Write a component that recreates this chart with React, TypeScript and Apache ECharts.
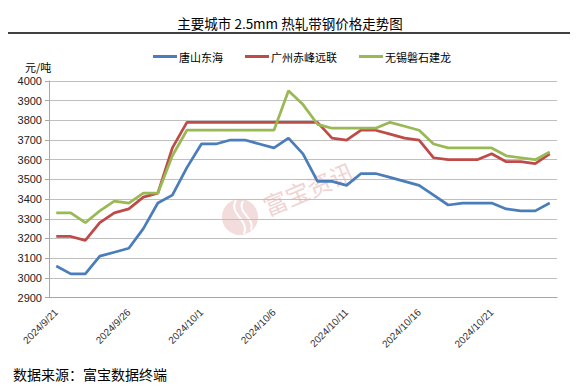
import React, { useEffect, useRef } from "react";
import * as echarts from "echarts";

const dates = [
  "2024/9/21", "2024/9/22", "2024/9/23", "2024/9/24", "2024/9/25",
  "2024/9/26", "2024/9/27", "2024/9/28", "2024/9/29", "2024/9/30",
  "2024/10/1", "2024/10/2", "2024/10/3", "2024/10/4", "2024/10/5",
  "2024/10/6", "2024/10/7", "2024/10/8", "2024/10/9", "2024/10/10",
  "2024/10/11", "2024/10/12", "2024/10/13", "2024/10/14", "2024/10/15",
  "2024/10/16", "2024/10/17", "2024/10/18", "2024/10/19", "2024/10/20",
  "2024/10/21", "2024/10/22", "2024/10/23", "2024/10/24", "2024/10/25",
];

const tangshan = [
  3060, 3020, 3020, 3110, 3130, 3150, 3250, 3380, 3420, 3560,
  3680, 3680, 3700, 3700, 3680, 3660, 3710, 3630, 3490, 3490,
  3470, 3530, 3530, 3510, 3490, 3470, 3420, 3370, 3380, 3380,
  3380, 3350, 3340, 3340, 3380,
];

const guangzhou = [
  3210, 3210, 3190, 3280, 3330, 3350, 3410, 3430, 3660, 3790,
  3790, 3790, 3790, 3790, 3790, 3790, 3790, 3790, 3790, 3710,
  3700, 3750, 3750, 3730, 3710, 3700, 3610, 3600, 3600, 3600,
  3630, 3590, 3590, 3580, 3630,
];

const wuxi = [
  3330, 3330, 3280, 3340, 3390, 3380, 3430, 3430, 3620, 3750,
  3750, 3750, 3750, 3750, 3750, 3750, 3950, 3880, 3780, 3760,
  3760, 3760, 3760, 3790, 3770, 3750, 3680, 3660, 3660, 3660,
  3660, 3620, 3610, 3600, 3640,
];

const seriesNames = ["唐山东海", "广州赤峰远联", "无锡磐石建龙"];
const seriesColors = ["#4a7ebb", "#be4b48", "#98b954"];
const titleText = "主要城市 2.5mm 热轧带钢价格走势图";
const unitText = "元/吨";
const sourceText = "数据来源：富宝数据终端";
const watermarkText = "富宝资讯";

const CJK = '"Noto Sans CJK SC", sans-serif';
const LAT = '"Liberation Sans", Arial, sans-serif';

export default function App() {
  const ref = useRef<HTMLDivElement>(null);
  useEffect(() => {
    if (!ref.current) return;
    const chart = echarts.init(ref.current, null, { renderer: "svg" });
    const data = [tangshan, guangzhou, wuxi];
    chart.setOption({
      animation: false,
      backgroundColor: "#ffffff",
      grid: { left: 49, right: 21, top: 81, bottom: 92.5, containLabel: false },
      legend: {
        left: 148,
        top: 46,
        itemWidth: 24,
        itemHeight: 3,
        itemGap: 22,
        icon: "rect",
        data: seriesNames,
        textStyle: { fontFamily: CJK, fontSize: 11, color: "#000", padding: [0, 0, 0, -3] },
      },
      xAxis: {
        type: "category",
        data: dates,
        boundaryGap: true,
        axisLine: { lineStyle: { color: "#a6a6a6", width: 1 } },
        axisTick: { interval: 4, alignWithLabel: false, length: 5, lineStyle: { color: "#a6a6a6" } },
        axisLabel: {
          interval: 4,
          rotate: 45,
          margin: 13,
          fontFamily: LAT,
          fontSize: 10,
          color: "#333",
        },
        splitLine: { show: false },
      },
      yAxis: {
        type: "value",
        min: 2900,
        max: 4000,
        interval: 100,
        axisLine: { show: true, lineStyle: { color: "#a6a6a6", width: 1 } },
        axisTick: { show: true, length: 4, lineStyle: { color: "#a6a6a6" } },
        axisLabel: {
          fontFamily: LAT,
          fontSize: 11,
          color: "#222",
          margin: 7,
          formatter: (v: number) => String(v),
        },
        splitLine: { lineStyle: { color: "#bfbfbf", width: 1 } },
      },
      series: seriesNames.map((name, i) => ({
        name,
        type: "line",
        data: data[i],
        symbol: "none",
        z: 3,
        lineStyle: { color: seriesColors[i], width: 2.75 },
        itemStyle: { color: seriesColors[i] },
      })),
      graphic: [
        {
          type: "text",
          x: 290,
          y: 23,
          style: {
            text: titleText,
            fontFamily: CJK,
            fontSize: 13.5,
            fill: "#000",
            textAlign: "center",
            textVerticalAlign: "middle",
          },
        },
        {
          type: "line",
          shape: { x1: 6, y1: 33, x2: 573, y2: 33 },
          style: { stroke: "#000", lineWidth: 1.5 },
        },
        {
          type: "text",
          x: 25,
          y: 67,
          style: {
            text: unitText,
            fontFamily: CJK,
            fontSize: 11,
            fill: "#000",
            textAlign: "left",
            textVerticalAlign: "middle",
          },
        },
        {
          type: "text",
          x: 13,
          y: 374,
          style: {
            text: sourceText,
            fontFamily: CJK,
            fontSize: 14,
            fill: "#000",
            textAlign: "left",
            textVerticalAlign: "middle",
          },
        },
        {
          type: "group",
          z: 0,
          silent: true,
          children: [
            {
              type: "circle",
              shape: { cx: 240, cy: 217, r: 18 },
              style: { fill: "#f2dcdc" },
            },
            {
              type: "bezierCurve",
              shape: { x1: 236, y1: 200, x2: 244, y2: 234, cpx1: 228, cpy1: 214, cpx2: 250, cpy2: 220 },
              style: { stroke: "#ffffff", lineWidth: 2, fill: "none" },
            },
            {
              type: "bezierCurve",
              shape: { x1: 243, y1: 201, x2: 251, y2: 230, cpx1: 236, cpy1: 213, cpx2: 256, cpy2: 218 },
              style: { stroke: "#ffffff", lineWidth: 2, fill: "none" },
            },
            {
              type: "text",
              x: 308,
              y: 188,
              rotation: (23 * Math.PI) / 180,
              style: {
                text: watermarkText,
                fontFamily: CJK,
                fontSize: 24,
                fill: "#f0d4d4",
                textAlign: "center",
                textVerticalAlign: "middle",
              },
            },
          ],
        },
      ],
    });
    return () => chart.dispose();
  }, []);
  return <div ref={ref} style={{ width: 578, height: 390, margin: -8 }} />;
}
